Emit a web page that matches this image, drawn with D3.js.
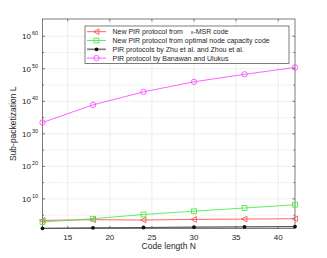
<!DOCTYPE html>
<html>
<head>
<meta charset="utf-8">
<script src="https://cdn.jsdelivr.net/npm/d3@7"></script>
<style>
  body { margin: 0; background: #fff; }
  text { font-family: "Liberation Sans", Arial, sans-serif; fill: #262626; }
</style>
</head>
<body>
<div id="chart"></div>
<script>
const codeLength = [12, 18, 24, 30, 36, 42];
const msrCode = [2.5e3, 4.0e3, 3.2e3, 5.0e3, 6.3e3, 7.9e3];
const optimalCode = [8e2, 8e3, 1.6e5, 1.6e6, 1.6e7, 1.6e8];
const zhuZhou = [9, 12.6, 16, 20, 25, 32];
const banawan = [3e33, 8e38, 8e42, 1e46, 2e48, 2.5e50];
const xTicks = [15, 20, 25, 30, 35, 40];
const yTickExp = [10, 20, 30, 40, 50, 60];
const yMinorExp = [5, 15, 25, 35, 45, 55];

const width = 327, height = 258;
const margin = {top: 19, right: 32, bottom: 29.5, left: 42.5};

const svg = d3.select("#chart").append("svg")
  .attr("width", width).attr("height", height);

const x = d3.scaleLinear().domain([12, 42]).range([margin.left, width - margin.right]);
const y = d3.scaleLog().domain([Math.pow(10, 0.9), Math.pow(10, 65.3)])
  .range([height - margin.bottom, margin.top]);

const x0 = margin.left, x1 = width - margin.right;
const y0 = height - margin.bottom, y1 = margin.top;

// grid
const grid = svg.append("g");
grid.selectAll(".gx").data(xTicks).join("line")
  .attr("x1", d => x(d)).attr("x2", d => x(d)).attr("y1", y1).attr("y2", y0)
  .attr("stroke", "#e3e3e3").attr("stroke-width", 0.6);
grid.selectAll(".gy").data(yTickExp).join("line")
  .attr("x1", x0).attr("x2", x1)
  .attr("y1", d => y(Math.pow(10, d))).attr("y2", d => y(Math.pow(10, d)))
  .attr("stroke", "#e3e3e3").attr("stroke-width", 0.6);
grid.selectAll(".gm").data(yMinorExp).join("line")
  .attr("x1", x0).attr("x2", x1)
  .attr("y1", d => y(Math.pow(10, d))).attr("y2", d => y(Math.pow(10, d)))
  .attr("stroke", "#d0d0d0").attr("stroke-width", 0.6).attr("stroke-dasharray", "1,1.5");

// axes box and ticks
const ax = svg.append("g").attr("stroke", "#262626").attr("stroke-width", 0.6);
ax.append("rect").attr("x", x0).attr("y", y1).attr("width", x1 - x0).attr("height", y0 - y1)
  .attr("fill", "none");
xTicks.forEach(t => {
  ax.append("line").attr("x1", x(t)).attr("x2", x(t)).attr("y1", y0).attr("y2", y0 - 2.5);
  ax.append("line").attr("x1", x(t)).attr("x2", x(t)).attr("y1", y1).attr("y2", y1 + 2.5);
});
yTickExp.forEach(e => {
  const yy = y(Math.pow(10, e));
  ax.append("line").attr("x1", x0).attr("x2", x0 + 2.5).attr("y1", yy).attr("y2", yy);
  ax.append("line").attr("x1", x1).attr("x2", x1 - 2.5).attr("y1", yy).attr("y2", yy);
});
yMinorExp.forEach(e => {
  const yy = y(Math.pow(10, e));
  ax.append("line").attr("x1", x0).attr("x2", x0 + 1.5).attr("y1", yy).attr("y2", yy);
  ax.append("line").attr("x1", x1).attr("x2", x1 - 1.5).attr("y1", yy).attr("y2", yy);
});

// tick labels
svg.append("g").selectAll("text").data(xTicks).join("text")
  .attr("x", d => x(d)).attr("y", y0 + 11)
  .attr("text-anchor", "middle").attr("font-size", 8).text(d => d);

const yl = svg.append("g").selectAll("text").data(yTickExp).join("text")
  .attr("x", 22).attr("y", d => y(Math.pow(10, d)) + 3).attr("font-size", 8);
yl.append("tspan").text("10");
yl.append("tspan").attr("dy", -4).attr("dx", 1).attr("font-size", 5.5).text(d => d);

// axis labels
svg.append("text").attr("x", (x0 + x1) / 2).attr("y", 249)
  .attr("text-anchor", "middle").attr("font-size", 8.5).text("Code length N");
svg.append("text").attr("transform", `translate(16,${(y0 + y1) / 2}) rotate(-90)`)
  .attr("text-anchor", "middle").attr("font-size", 8.5).text("Sub-packetization L");

// series
const series = [
  {name: "msr", values: msrCode, color: "#ff3c3c", marker: "tri", lw: 0.8},
  {name: "opt", values: optimalCode, color: "#3ce83c", marker: "square", lw: 0.8},
  {name: "zhu", values: zhuZhou, color: "#555555", marker: "dot", lw: 1.2},
  {name: "ban", values: banawan, color: "#ff3cff", marker: "circle", lw: 0.8}
];

function drawMarker(g, type, cx, cy, color) {
  if (type === "tri") {
    g.append("path").attr("d", `M${cx - 2.8},${cy} L${cx + 2.4},${cy - 2.8} L${cx + 2.4},${cy + 2.8} Z`)
      .attr("fill", "none").attr("stroke", color).attr("stroke-width", 0.8);
  } else if (type === "square") {
    g.append("rect").attr("x", cx - 2.4).attr("y", cy - 2.4).attr("width", 4.8).attr("height", 4.8)
      .attr("fill", "none").attr("stroke", color).attr("stroke-width", 0.8);
  } else if (type === "circle") {
    g.append("circle").attr("cx", cx).attr("cy", cy).attr("r", 2.7)
      .attr("fill", "none").attr("stroke", color).attr("stroke-width", 0.8);
  } else {
    g.append("circle").attr("cx", cx).attr("cy", cy).attr("r", 1.9).attr("fill", "#111");
  }
}

const line = d3.line().x(d => x(d[0])).y(d => y(d[1]));
const plot = svg.append("g");
series.forEach(s => {
  const pts = codeLength.map((n, i) => [n, s.values[i]]);
  plot.append("path").attr("d", line(pts)).attr("fill", "none")
    .attr("stroke", s.color).attr("stroke-width", s.lw);
  pts.forEach(p => drawMarker(plot, s.marker, x(p[0]), y(p[1]), s.color));
});

// legend
const lg = svg.append("g");
lg.append("rect").attr("x", 85).attr("y", 26).attr("width", 204).attr("height", 37.5)
  .attr("fill", "#fff").attr("stroke", "#262626").attr("stroke-width", 0.6);
const labels = [
  "New PIR protocol from ",
  "New PIR protocol from optimal node capacity code",
  "PIR protocols by Zhu et al. and Zhou et al.",
  "PIR protocol by Banawan and Ulukus"
];
series.forEach((s, i) => {
  const ly = 31.7 + i * 8.8;
  lg.append("line").attr("x1", 87).attr("x2", 106).attr("y1", ly).attr("y2", ly)
    .attr("stroke", s.name === "zhu" ? "#888" : s.color).attr("stroke-width", s.name === "zhu" ? 1.8 : 0.8);
  drawMarker(lg, s.marker, 96.5, ly, s.color);
  const t = lg.append("text").attr("x", 112.5).attr("y", ly + 2.4).attr("font-size", 7).text(labels[i]);
  if (i === 0) {
    lg.append("text").attr("x", 191).attr("y", ly + 2.4).attr("font-size", 7)
      .call(tt => {
        tt.append("tspan").attr("font-size", 5.5).text("ε");
        tt.append("tspan").text("-MSR code");
      });
  }
});
</script>
</body>
</html>
